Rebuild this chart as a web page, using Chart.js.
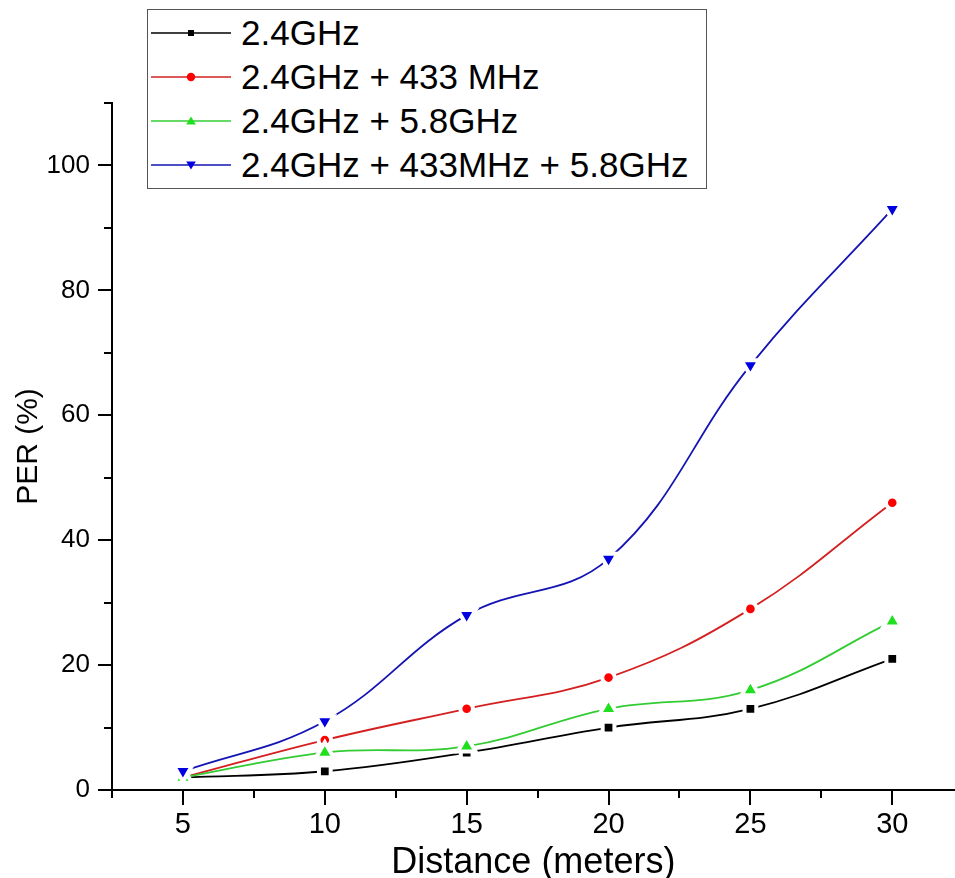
<!DOCTYPE html>
<html>
<head>
<meta charset="utf-8">
<script src="https://cdn.jsdelivr.net/npm/chart.js@4.4.1/dist/chart.umd.min.js"></script>
<style>
  html, body { margin: 0; padding: 0; background: #fff; overflow: hidden; }
  #wrap { position: relative; width: 955px; height: 878px; overflow: hidden; }
  #c { position: absolute; left: 0; top: 0; }
  #legend { position: absolute; left: 147px; top: 9px; width: 560px; height: 180px;
            border: 1.5px solid #555; background: #fff; box-sizing: border-box; }
  .row { position: absolute; left: 3px; height: 40px; display: flex; align-items: center; white-space: nowrap; }
  .row svg { width: 80px; height: 40px; flex: none; }
  .row span { margin-left: 10px; font-family: 'Liberation Sans', Arial, sans-serif; font-size: 35px; line-height: 40px; color: #000; }
</style>
</head>
<body>
<div id="wrap">
  <canvas id="c" width="969" height="878"></canvas>
  <div id="legend"></div>
</div>
<script>
// ---- Data ----
const distances = [5, 10, 15, 20, 25, 30];
const per24 = [2, 3, 6, 10, 13, 21];
const per24_433 = [2, 8, 13, 18, 29, 46];
const per24_58 = [2, 6, 7, 13, 16, 27];
const per24_433_58 = [3, 11, 28, 37, 68, 93];
const seriesLabels = ['2.4GHz', '2.4GHz + 433 MHz', '2.4GHz + 5.8GHz', '2.4GHz + 433MHz + 5.8GHz'];
const xTickLabels = [5, 10, 15, 20, 25, 30];
const yTickLabels = [0, 20, 40, 60, 80, 100];
const xTitle = 'Distance (meters)';
const yTitle = 'PER (%)';

// ---- Styles ----
const lineColors = ['#000000', '#d42020', '#33cc33', '#1414b4'];
const markColors = ['#000000', '#ff0000', '#1ee01e', '#0000e0'];
const markStyles = ['rect', 'circle', 'triangle', 'triangle'];
const markRot = [0, 0, 0, 180];
const markRadius = [8.3, 6.3, 10.3, 10.3];
const seriesValues = [per24, per24_433, per24_58, per24_433_58];

const round2 = (v) => Math.round(v * 100) / 100;

const datasets = seriesValues.map((vals, i) => ({
  label: seriesLabels[i],
  data: distances.map((d, j) => ({ x: d, y: vals[j] })),
  borderColor: lineColors[i],
  borderWidth: 1.8,
  backgroundColor: markColors[i],
  pointBackgroundColor: markColors[i],
  pointBorderColor: '#ffffff',
  pointBorderWidth: 4,
  pointStyle: markStyles[i],
  rotation: markRot[i],
  pointRadius: markRadius[i],
  tension: 0.4,
  fill: false,
  order: 4 - i
}));

const tickMarks = {
  id: 'tickMarks',
  afterDraw(chart) {
    const ctx = chart.ctx;
    const xs = chart.scales.x, ys = chart.scales.y;
    ctx.save();
    ctx.strokeStyle = '#000';
    ctx.lineWidth = 2;
    xs.ticks.forEach(t => {
      const v = round2(t.value);
      if (Math.abs(v / 2.5 - Math.round(v / 2.5)) > 1e-6) return;
      const major = xTickLabels.includes(v);
      const px = Math.round(xs.getPixelForValue(v));
      ctx.beginPath();
      ctx.moveTo(px, xs.top);
      ctx.lineTo(px, xs.top + (major ? 15 : 8));
      ctx.stroke();
    });
    ys.ticks.forEach(t => {
      const v = round2(t.value);
      if (Math.abs(v / 10 - Math.round(v / 10)) > 1e-6) return;
      const major = yTickLabels.includes(v);
      const py = Math.round(ys.getPixelForValue(v));
      ctx.beginPath();
      ctx.moveTo(ys.right, py);
      ctx.lineTo(ys.right - (major ? 14 : 8), py);
      ctx.stroke();
    });
    ctx.restore();
  }
};

new Chart(document.getElementById('c'), {
  type: 'line',
  data: { datasets },
  plugins: [tickMarks],
  options: {
    responsive: false,
    animation: false,
    devicePixelRatio: 1,
    layout: { padding: { top: 103, right: 0, left: 0, bottom: 0 } },
    plugins: { legend: { display: false }, tooltip: { enabled: false } },
    scales: {
      x: {
        type: 'linear',
        min: 2.5,
        max: 32.2,
        afterFit(scale) { scale.height = 88; },
        grid: { display: false },
        border: { display: true, color: '#000', width: 2 },
        ticks: {
          stepSize: 2.5,
          includeBounds: false,
          autoSkip: false,
          maxRotation: 0,
          padding: 10,
          color: '#000',
          font: { family: "'Liberation Sans Narrow', 'Liberation Sans', Arial, sans-serif", size: 29 },
          callback: (v) => xTickLabels.includes(round2(v)) ? String(round2(v)) : ''
        },
        title: {
          display: true,
          text: xTitle,
          color: '#000',
          font: { family: "'Liberation Sans', Arial, sans-serif", size: 36 },
          padding: { top: 0, bottom: -7 }
        }
      },
      y: {
        type: 'linear',
        min: 0,
        max: 110,
        afterFit(scale) { scale.width = 112; },
        grid: { display: false },
        border: { display: true, color: '#000', width: 2 },
        ticks: {
          stepSize: 10,
          autoSkip: false,
          padding: 14,
          color: '#000',
          font: { family: "'Liberation Sans', Arial, sans-serif", size: 26 },
          callback: (v) => yTickLabels.includes(round2(v)) ? String(round2(v)) : ''
        },
        title: {
          display: true,
          text: yTitle,
          color: '#000',
          font: { family: "'Liberation Sans', Arial, sans-serif", size: 30 },
          padding: { top: 11, bottom: 0 }
        }
      }
    }
  }
});

// ---- HTML legend ----
const legend = document.getElementById('legend');
const rowCenters = [33, 77, 121, 165];
function markerSvg(i) {
  const c = markColors[i];
  if (i === 0) return `<rect x="37" y="17" width="6" height="6" fill="${c}"/>`;
  if (i === 1) return `<circle cx="40" cy="20" r="4.2" fill="${c}"/>`;
  if (i === 2) return `<polygon points="40,15.5 44.8,23.5 35.2,23.5" fill="${c}"/>`;
  return `<polygon points="40,24.5 44.8,16.5 35.2,16.5" fill="${c}"/>`;
}
seriesLabels.forEach((lab, i) => {
  const row = document.createElement('div');
  row.className = 'row';
  row.style.top = (rowCenters[i] - 20 - 10.5) + 'px';
  row.innerHTML = `<svg viewBox="0 0 80 40"><line x1="0" y1="20" x2="80" y2="20" stroke="${lineColors[i]}" stroke-width="1.6"/>${markerSvg(i)}</svg><span>${lab}</span>`;
  legend.appendChild(row);
});
</script>
</body>
</html>
